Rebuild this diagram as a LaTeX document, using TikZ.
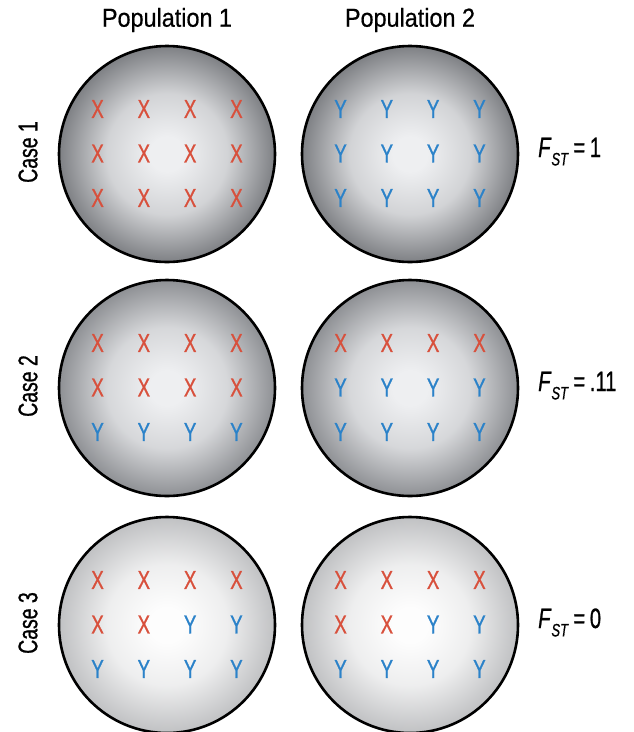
\documentclass[tikz,border=0pt]{standalone}
\usepackage{fontspec}
\setmainfont{Liberation Sans}[FakeStretch=0.9, FakeBold=0.6]
\newfontfamily\narrowfont{Liberation Sans}[FakeStretch=0.72, FakeBold=0.8]
\usetikzlibrary{calc}
\definecolor{xred}{HTML}{D8503C}
\definecolor{yblue}{HTML}{2B82C9}
\definecolor{edgeA}{HTML}{7E8084}
\definecolor{edgeB}{HTML}{8E9094}
\definecolor{edgeC}{HTML}{C0C1C3}
\definecolor{coreA}{HTML}{EEEFF1}
\definecolor{coreC}{HTML}{FDFDFD}
\colorlet{popin}{white}
\colorlet{popout}{gray}
\pgfdeclareradialshading[popin,popout]{popball}{\pgfpointorigin}{color(0bp)=(popin); color(4bp)=(popin); color(14bp)=(popin!75!popout); color(25bp)=(popout); color(50bp)=(popout)}
\tikzset{every node/.append style={inner sep=0pt}}
\tikzset{
  popshade/.code 2 args={\colorlet{popin}{#1}\colorlet{popout}{#2}},
  pop/.style={circle, draw=black, line width=2.6pt, minimum size=216pt, shading=popball, shade},
  poplabel/.style={font=\fontsize{26}{28}\selectfont},
  caselabel/.style={font=\narrowfont\fontsize{27}{28}\selectfont, rotate=90},
  fst/.style={font=\narrowfont\fontsize{28}{30}\selectfont, anchor=base west},
  gtX/.style={font=\narrowfont\fontsize{26}{28}\selectfont, text=xred},
  gtY/.style={font=\narrowfont\fontsize{26}{28}\selectfont, text=yblue}
}

\begin{document}
\begin{tikzpicture}[x=1pt, y=-1pt]
    \useasboundingbox (0,0) rectangle (634,732);
    % column heads
    \node[poplabel] (pop1) at (167,20) {Population 1};
    \node[poplabel] (pop2) at (410,20) {Population 2};
    % one row per case
    \foreach \r/\y/\val/\core/\edge in {1/154/1/coreA/edgeA, 2/388/.11/coreA/edgeB, 3/625/0/coreC/edgeC}{
        \node[caselabel] (case\r) at (28,\y-2) {Case \r};
        \node[pop, popshade={\core}{\edge}] (c-\r-1) at (167,\y) {};
        \node[pop, popshade={\core}{\edge}] (c-\r-2) at (410,\y) {};
        \node[fst] (fst\r) at (538,\y+3) {\textit{F}\raisebox{-0.3em}{\fontsize{18}{19}\selectfont\textit{ST}}\,=\,\val};
    }
    % alleles inside each population
    \foreach \r/\p/\cells in {
        1/1/{X,X,X,X,X,X,X,X,X,X,X,X},
        1/2/{Y,Y,Y,Y,Y,Y,Y,Y,Y,Y,Y,Y},
        2/1/{X,X,X,X,X,X,X,X,Y,Y,Y,Y},
        2/2/{X,X,X,X,Y,Y,Y,Y,Y,Y,Y,Y},
        3/1/{X,X,X,X,X,X,Y,Y,Y,Y,Y,Y},
        3/2/{X,X,X,X,X,X,Y,Y,Y,Y,Y,Y}}{
        \foreach \g [count=\i from 0] in \cells{
            \pgfmathsetmacro\dx{(mod(\i,4)-1.5)*46.3}
            \pgfmathsetmacro\dy{int(\i/4)*44.5-45}
            \node[gt\g] (a-\r-\p-\i) at ($(c-\r-\p.center)+(\dx,\dy)$) {\g};
        }
    }
\end{tikzpicture}
\end{document}
